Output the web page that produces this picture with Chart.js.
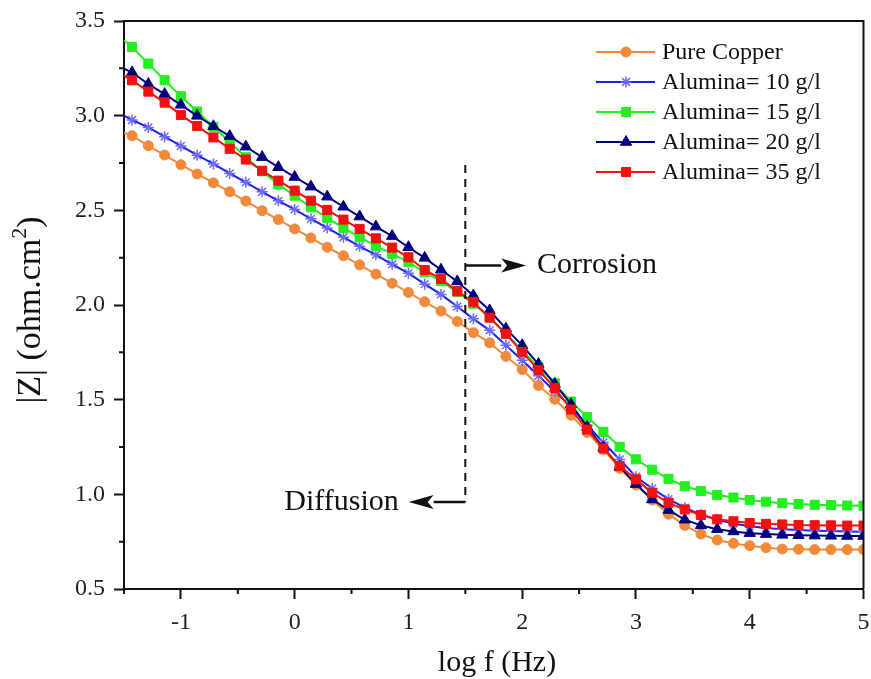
<!DOCTYPE html>
<html>
<head>
<meta charset="utf-8">
<script src="https://cdn.jsdelivr.net/npm/chart.js@4/dist/chart.umd.min.js"></script>
<style>
  html, body { margin: 0; padding: 0; background: #fff; }
  canvas { display: block; }
</style>
</head>
<body>
<canvas id="bode-chart" width="871" height="679"></canvas>
<script>
'use strict';

// log f (Hz): first entry is where the lines meet the left axis, the rest are the measured frequencies
const logF = [-1.5, -1.429, -1.286, -1.143, -1.000, -0.857, -0.714, -0.571, -0.429, -0.286, -0.143,
  0.000, 0.143, 0.286, 0.429, 0.571, 0.714, 0.857, 1.000, 1.143, 1.286, 1.429, 1.571, 1.714, 1.857,
  2.000, 2.143, 2.286, 2.429, 2.571, 2.714, 2.857, 3.000, 3.143, 3.286, 3.429, 3.571, 3.714, 3.857,
  4.000, 4.143, 4.286, 4.429, 4.571, 4.714, 4.857, 5.000];

const pureCopper = [2.91, 2.894, 2.841, 2.792, 2.741, 2.692, 2.645, 2.598, 2.549, 2.498, 2.451,
  2.402, 2.354, 2.305, 2.260, 2.212, 2.163, 2.115, 2.066, 2.017, 1.968, 1.913, 1.854, 1.800, 1.729,
  1.659, 1.575, 1.502, 1.418, 1.327, 1.237, 1.137, 1.049, 0.970, 0.895, 0.836, 0.790, 0.759, 0.741,
  0.729, 0.718, 0.711, 0.710, 0.708, 0.708, 0.708, 0.708];

const alumina10 = [3.0, 2.977, 2.938, 2.889, 2.840, 2.791, 2.745, 2.695, 2.648, 2.598, 2.550,
  2.505, 2.455, 2.407, 2.358, 2.310, 2.265, 2.215, 2.168, 2.110, 2.056, 1.992, 1.927, 1.866, 1.787,
  1.708, 1.626, 1.546, 1.462, 1.365, 1.274, 1.184, 1.093, 1.031, 0.975, 0.930, 0.893, 0.866, 0.846,
  0.832, 0.822, 0.815, 0.811, 0.808, 0.806, 0.804, 0.803];

const alumina15 = [3.398, 3.363, 3.275, 3.187, 3.103, 3.022, 2.941, 2.860, 2.780, 2.706, 2.637,
  2.577, 2.516, 2.460, 2.407, 2.358, 2.312, 2.270, 2.226, 2.173, 2.126, 2.068, 2.007, 1.936, 1.848,
  1.760, 1.672, 1.586, 1.490, 1.409, 1.330, 1.251, 1.185, 1.130, 1.082, 1.043, 1.018, 0.996, 0.983,
  0.970, 0.961, 0.953, 0.949, 0.945, 0.943, 0.941, 0.940];

const alumina20 = [3.249, 3.228, 3.167, 3.114, 3.057, 2.999, 2.944, 2.892, 2.836, 2.781, 2.728,
  2.676, 2.625, 2.572, 2.519, 2.467, 2.414, 2.364, 2.305, 2.249, 2.186, 2.124, 2.050, 1.971, 1.875,
  1.787, 1.688, 1.583, 1.476, 1.356, 1.247, 1.145, 1.054, 0.973, 0.917, 0.866, 0.836, 0.816, 0.804,
  0.795, 0.790, 0.786, 0.784, 0.782, 0.781, 0.780, 0.780];

const alumina35 = [3.21, 3.187, 3.127, 3.069, 3.004, 2.945, 2.885, 2.825, 2.768, 2.709, 2.657,
  2.604, 2.551, 2.502, 2.451, 2.402, 2.352, 2.303, 2.252, 2.185, 2.138, 2.073, 2.015, 1.933, 1.848,
  1.751, 1.657, 1.562, 1.448, 1.342, 1.242, 1.149, 1.079, 1.008, 0.955, 0.920, 0.891, 0.868, 0.858,
  0.849, 0.844, 0.841, 0.838, 0.837, 0.836, 0.835, 0.835];

const seriesLabels = ['Pure Copper', 'Alumina= 10 g/l', 'Alumina= 15 g/l', 'Alumina= 20 g/l', 'Alumina= 35 g/l'];
const seriesValues = [pureCopper, alumina10, alumina15, alumina20, alumina35];

// the dashed boundary and the two region arrows, in data units
const dividerX = 1.5;
const dividerY = [0.96, 2.74];
const corrosionArrow = { y: 2.208, toX: 2.035, textX: 2.13 };
const diffusionArrow = { y: 0.959, toX: 1.002, textX: 0.915 };

const serif = "'Liberation Serif', 'Times New Roman', serif";

const styles = [
  { line: '#F08A3A', fill: '#F08A3A', edge: '#F08A3A', shape: 'circle', r: 5, bw: 1, order: 5 },
  { line: '#1F1FF5', fill: '#6A6AF5', edge: '#6A6AF5', shape: 'star', r: 5.5, bw: 1.5, order: 4 },
  { line: '#22EE22', fill: '#22EE22', edge: '#22EE22', shape: 'rect', r: 6.4, bw: 1, order: 3 },
  { line: '#00007F', fill: '#00007F', edge: '#00007F', shape: 'triangle', r: 6.5, bw: 1, order: 2 },
  { line: '#F21111', fill: '#F21111', edge: '#F21111', shape: 'rect', r: 6.4, bw: 1, order: 1 }
];

const datasets = seriesValues.map(function(vals, i) {
  const s = styles[i];
  return {
    label: seriesLabels[i],
    data: vals.map(function(v, j) { return { x: logF[j], y: v }; }),
    borderColor: s.line,
    borderWidth: 2,
    pointStyle: s.shape,
    pointRadius: function(ctx) { return ctx.dataIndex === 0 ? 0 : s.r; },
    pointBackgroundColor: s.fill,
    pointBorderColor: s.edge,
    pointBorderWidth: s.bw,
    tension: 0,
    fill: false,
    order: s.order
  };
});

const isMajor = function(v, step) {
  return Math.abs(v / step - Math.round(v / step)) < 1e-6;
};

const extrasPlugin = {
  id: 'extras',
  afterDraw: function(chart) {
    const ctx = chart.ctx;
    const a = chart.chartArea;
    const xs = chart.scales.x;
    const ys = chart.scales.y;
    ctx.save();

    // frame on top and right
    ctx.strokeStyle = '#111';
    ctx.lineWidth = 2;
    ctx.beginPath();
    ctx.moveTo(a.left, a.top);
    ctx.lineTo(a.right, a.top);
    ctx.lineTo(a.right, a.bottom);
    ctx.stroke();

    // minor ticks
    ctx.beginPath();
    ys.ticks.forEach(function(t) {
      if (!isMajor(t.value, 0.5)) {
        const py = ys.getPixelForValue(t.value);
        ctx.moveTo(a.left, py);
        ctx.lineTo(a.left - 5, py);
      }
    });
    xs.ticks.forEach(function(t) {
      if (!isMajor(t.value, 1)) {
        const px = xs.getPixelForValue(t.value);
        ctx.moveTo(px, a.bottom);
        ctx.lineTo(px, a.bottom + 5);
      }
    });
    ctx.stroke();

    // dashed boundary
    const dx = xs.getPixelForValue(dividerX);
    ctx.setLineDash([8, 6]);
    ctx.beginPath();
    ctx.moveTo(dx, ys.getPixelForValue(dividerY[1]));
    ctx.lineTo(dx, ys.getPixelForValue(dividerY[0]));
    ctx.stroke();
    ctx.setLineDash([]);

    const arrow = function(y, toX, dir) {
      const py = ys.getPixelForValue(y);
      const tip = xs.getPixelForValue(toX);
      const base = tip - dir * 25;
      ctx.beginPath();
      ctx.moveTo(dx, py);
      ctx.lineTo(base, py);
      ctx.stroke();
      ctx.fillStyle = '#111';
      ctx.beginPath();
      ctx.moveTo(tip, py);
      ctx.lineTo(base, py - 7);
      ctx.lineTo(base + dir * 6, py);
      ctx.lineTo(base, py + 7);
      ctx.closePath();
      ctx.fill();
    };
    ctx.lineWidth = 2.5;
    arrow(corrosionArrow.y, corrosionArrow.toX, 1);
    arrow(diffusionArrow.y, diffusionArrow.toX, -1);

    ctx.fillStyle = '#111';
    ctx.font = '30px ' + serif;
    ctx.textBaseline = 'middle';
    ctx.textAlign = 'left';
    ctx.fillText('Corrosion', xs.getPixelForValue(corrosionArrow.textX), ys.getPixelForValue(corrosionArrow.y));
    ctx.textAlign = 'right';
    ctx.fillText('Diffusion', xs.getPixelForValue(diffusionArrow.textX), ys.getPixelForValue(diffusionArrow.y));

    // legend
    ctx.font = '24px ' + serif;
    ctx.textAlign = 'left';
    chart.data.datasets.forEach(function(ds, i) {
      const ly = 52 + i * 30;
      const s = styles[i];
      ctx.strokeStyle = s.line;
      ctx.lineWidth = 2;
      ctx.beginPath();
      ctx.moveTo(596, ly);
      ctx.lineTo(655, ly);
      ctx.stroke();
      ctx.fillStyle = s.fill;
      ctx.strokeStyle = s.edge;
      ctx.lineWidth = s.bw;
      Chart.helpers.drawPoint(ctx, { pointStyle: s.shape, radius: s.r, rotation: 0, borderWidth: s.bw }, 626, ly);
      ctx.fillStyle = '#111';
      ctx.fillText(ds.label, 662, ly + 1);
    });

    // axis titles
    ctx.font = '30px ' + serif;
    ctx.textAlign = 'center';
    ctx.fillText('log f (Hz)', 497, 663);

    ctx.translate(31, 310);
    ctx.rotate(-Math.PI / 2);
    const main = '|Z| (ohm.cm';
    const close = ')';
    ctx.font = '34px ' + serif;
    const w1 = ctx.measureText(main).width;
    const w3 = ctx.measureText(close).width;
    ctx.font = '22px ' + serif;
    const w2 = ctx.measureText('2').width;
    const px = -(w1 + w2 + w3) / 2;
    ctx.textAlign = 'left';
    ctx.font = '34px ' + serif;
    ctx.fillText(main, px, 0);
    ctx.font = '22px ' + serif;
    ctx.fillText('2', px + w1, -11);
    ctx.font = '34px ' + serif;
    ctx.fillText(close, px + w1 + w2, 0);

    ctx.restore();
  }
};

const chartCtx = document.getElementById('bode-chart').getContext('2d');
const myChart = new Chart(chartCtx, {
  type: 'line',
  data: { datasets: datasets },
  options: {
    responsive: false,
    animation: false,
    devicePixelRatio: 1,
    layout: { padding: { top: 21, right: 3, left: 0, bottom: 0 } },
    plugins: { legend: { display: false }, tooltip: { enabled: false } },
    scales: {
      x: {
        type: 'linear',
        min: -1.5,
        max: 5,
        afterFit: function(scale) {
          scale.height = 90;
          scale.paddingLeft = 0;
          scale.paddingRight = 0;
        },
        border: { color: '#111', width: 2 },
        grid: {
          drawOnChartArea: false,
          tickLength: 10,
          tickWidth: 2,
          tickColor: function(c) { return isMajor(c.tick.value, 1) ? '#111' : 'rgba(0,0,0,0)'; }
        },
        ticks: {
          stepSize: 0.5,
          autoSkip: false,
          maxRotation: 0,
          padding: 9,
          color: '#222',
          font: { family: serif, size: 24 },
          callback: function(v) { return isMajor(v, 1) ? String(Math.round(v)) : ''; }
        }
      },
      y: {
        type: 'linear',
        min: 0.5,
        max: 3.5,
        afterFit: function(scale) {
          scale.width = 124;
          scale.paddingTop = 0;
          scale.paddingBottom = 0;
        },
        border: { color: '#111', width: 2 },
        grid: {
          drawOnChartArea: false,
          tickLength: 10,
          tickWidth: 2,
          tickColor: function(c) { return isMajor(c.tick.value, 0.5) ? '#111' : 'rgba(0,0,0,0)'; }
        },
        ticks: {
          stepSize: 0.25,
          autoSkip: false,
          padding: 9,
          color: '#222',
          font: { family: serif, size: 24 },
          callback: function(v) { return isMajor(v, 0.5) ? v.toFixed(1) : ''; }
        }
      }
    }
  },
  plugins: [extrasPlugin]
});
</script>
</body>
</html>
